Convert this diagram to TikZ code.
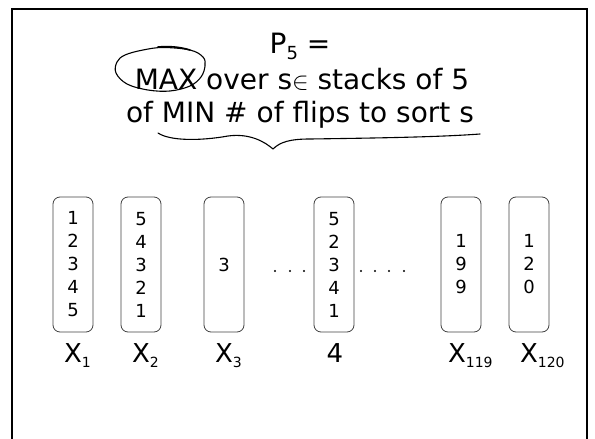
\documentclass[tikz,border=0pt]{standalone}
\usepackage{fontspec}
\setmainfont{DejaVu Sans}
\begin{document}
\begin{tikzpicture}[x=1pt,y=-1pt,
  title/.style={font=\fontsize{28}{34}\selectfont, anchor=base, inner sep=0pt},
  stackbox/.style={draw=black!75, line width=0.8pt, rounded corners=7pt, minimum width=40pt, minimum height=135pt, inner sep=0pt, align=center, font=\fontsize{18}{23}\selectfont},
  lbl/.style={font=\fontsize{26}{30}\selectfont, anchor=base, inner sep=0pt},
  dotmark/.style={circle, fill=black, inner sep=0pt, minimum size=2.4pt},
  hand/.style={line width=1.1pt, line cap=round, line join=round}]
\useasboundingbox (0,0) rectangle (595,439);
% frame
\draw[line width=2.6pt] (12,450) -- (12,9) -- (587,9) -- (587,450);
% title
\node[title] (t1) at (300,53) {P\raisebox{-6pt}{\fontsize{18}{18}\selectfont 5} =};
\node[title] (t2) at (302,89) {MAX over s$\in$ stacks of 5};
\node[title] (t3) at (300,122) {of MIN \# of flips to sort s};
% ellipse around MAX
\draw[hand] plot[smooth cycle, tension=0.6] coordinates {(163,47.5) (190,50) (203,57) (205,66) (201,77) (190,86) (170,91) (148,90) (127,84) (116,73) (117,62) (125,55) (143,50)};
\draw[hand, line width=1.6pt] (158,47) .. controls (170,46) and (180,47) .. (190,50);
% brace
\draw[hand] (158,133) .. controls (170,141) and (200,141) .. (228,136) .. controls (250,133) and (265,142) .. (273,149) .. controls (280,142) and (290,139) .. (310,139) .. controls (380,138) and (440,137) .. (480,134);
% stacks
\node[stackbox] (b1) at (73,264.5) {1\\2\\3\\4\\5};
\node[stackbox] (b2) at (141,264.5) {5\\4\\3\\2\\1};
\node[stackbox] (b3) at (224,264.5) {3};
\node[stackbox] (b4) at (334,264.5) {5\\2\\3\\4\\1};
\node[stackbox] (b5) at (461,264.5) {1\\9\\9};
\node[stackbox] (b6) at (529,264.5) {1\\2\\0};
% dots
\foreach \i/\x in {1/275,2/290,3/304,4/361,5/375,6/389,7/404}
  \node[dotmark] (d\i) at (\x,271) {};
% labels
\node[lbl] (l1) at (73,362) {X\rlap{\raisebox{-5pt}{\fontsize{14}{14}\selectfont 1}}};
\node[lbl] (l2) at (141,362) {X\rlap{\raisebox{-5pt}{\fontsize{14}{14}\selectfont 2}}};
\node[lbl] (l3) at (224,362) {X\rlap{\raisebox{-5pt}{\fontsize{14}{14}\selectfont 3}}};
\node[lbl] (l4) at (335,362) {4};
\node[lbl] (l5) at (457,362) {X\rlap{\raisebox{-5pt}{\fontsize{14}{14}\selectfont 119}}};
\node[lbl] (l6) at (529,362) {X\rlap{\raisebox{-5pt}{\fontsize{14}{14}\selectfont 120}}};
\end{tikzpicture}
\end{document}
